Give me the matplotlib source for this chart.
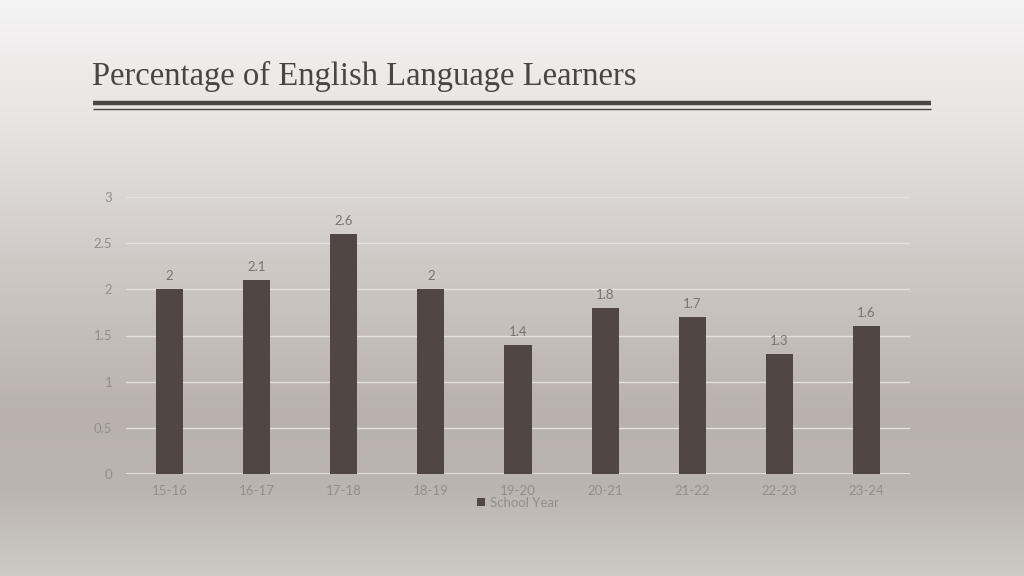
import numpy as np
import matplotlib
matplotlib.use("Agg")
import matplotlib.pyplot as plt
from matplotlib.colors import LinearSegmentedColormap

categories = ["15-16", "16-17", "17-18", "18-19", "19-20", "20-21", "21-22", "22-23", "23-24"]
values = [2, 2.1, 2.6, 2, 1.4, 1.8, 1.7, 1.3, 1.6]
yticks = [0, 0.5, 1, 1.5, 2, 2.5, 3]
ytick_labels = ["0", "0.5", "1", "1.5", "2", "2.5", "3"]
title = "Percentage of English Language Learners"
legend_label = "School Year"

W, H = 1024, 576
fig = plt.figure(figsize=(W / 100, H / 100), dpi=100)
plt.rcParams["font.family"] = ["Lato", "DejaVu Sans"]

# background gradient
bg = fig.add_axes([0, 0, 1, 1])
bg.set_axis_off()
cmap = LinearSegmentedColormap.from_list(
    "bg",
    [(0.0, "#f5f4f4"), (0.2, "#e8e5e4"), (0.45, "#d0cac7"),
     (0.72, "#b8b1ac"), (0.85, "#bbb5b0"), (1.0, "#cdcac6")])
grad = np.linspace(0, 1, 256).reshape(-1, 1)
bg.imshow(grad, aspect="auto", cmap=cmap, extent=[0, 1, 0, 1], origin="upper")
bg.set_xlim(0, 1)
bg.set_ylim(0, 1)

# title and rules
fig.text(92 / W, 1 - 85 / H, title, fontsize=23.5, family="Liberation Serif",
         color="#4a4443", va="baseline", ha="left")
bg.plot([93 / W, 931 / W], [1 - 102.5 / H, 1 - 102.5 / H], color="#4a4443", lw=3.2,
        solid_capstyle="butt")
bg.plot([93 / W, 931 / W], [1 - 108.5 / H, 1 - 108.5 / H], color="#4a4443", lw=1.0,
        solid_capstyle="butt")

# chart axes
x0, x1 = 126, 910
y0, y1 = 474, 197
ax = fig.add_axes([x0 / W, 1 - y0 / H, (x1 - x0) / W, (y0 - y1) / H])
ax.patch.set_alpha(0)
x = np.arange(len(categories))
bars = ax.bar(x, values, width=0.31, color="#504643", zorder=3, label=legend_label)
ax.set_xlim(-0.5, len(categories) - 0.5)
ax.set_ylim(0, 3)
ax.set_yticks(yticks)
ax.set_yticklabels(ytick_labels)
ax.set_xticks(x)
ax.set_xticklabels(categories)
ax.grid(axis="y", color="#e4e1df", lw=1.0, zorder=0)
for s in ax.spines.values():
    s.set_visible(False)
ax.axhline(0, color="#e8e6e4", lw=1.2, zorder=2)
ax.tick_params(axis="both", length=0, labelsize=9.5, labelcolor="#948e8b")
ax.tick_params(axis="x", pad=8)
ax.tick_params(axis="y", pad=10)
for xi, v in zip(x, values):
    ax.annotate(f"{v:g}", (xi, v), xytext=(0, 5), textcoords="offset points",
                ha="center", va="bottom", fontsize=9.5, color="#7a7370")

leg = ax.legend(loc="upper center", bbox_to_anchor=(0.5, -0.04), frameon=False,
                fontsize=9.5, handlelength=0.6, handleheight=0.6, handletextpad=0.4)
for t in leg.get_texts():
    t.set_color("#948e8b")

fig.savefig("out.png", dpi=100)
